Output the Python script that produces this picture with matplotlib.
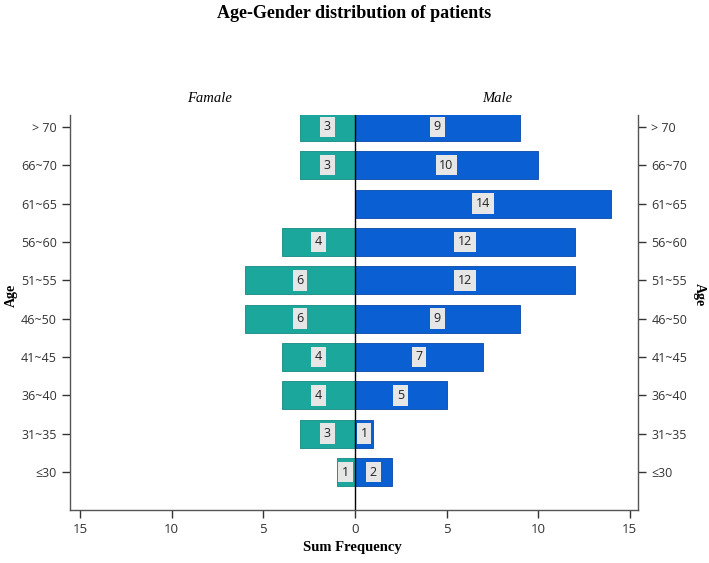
import matplotlib
matplotlib.use("Agg")
import matplotlib.pyplot as plt
import numpy as np

ages = ['≤30', '31~35', '36~40', '41~45', '46~50', '51~55', '56~60', '61~65', '66~70', '> 70']
female = [1, 3, 4, 4, 6, 6, 4, 0, 3, 3]
male = [2, 1, 5, 7, 9, 12, 12, 14, 10, 9]
xticks = [-15, -10, -5, 0, 5, 10, 15]
xticklabels = ['15', '10', '5', '0', '5', '10', '15']

teal = '#1ba79b'
blue = '#0a5fd2'
serif = ['Liberation Serif', 'DejaVu Serif']
sans = ['Open Sans', 'DejaVu Sans']

W, H = 709, 563
fig = plt.figure(figsize=(W / 100, H / 100), dpi=100)
ax = fig.add_axes([70 / W, (H - 510) / H, 568 / W, 395 / H])

y = np.arange(len(ages))
h = 0.73
box = dict(boxstyle='square,pad=0.3', facecolor='#e6e6e6', edgecolor='none')
for i, (f, m) in enumerate(zip(female, male)):
    if f > 0:
        ax.barh(i, -f, height=h, color=teal, edgecolor='#138a80', linewidth=0.6, zorder=2)
        ax.text(-f / 2, i, str(f), ha='center', va='center', fontsize=9, family=sans,
                color='#222222', zorder=4, bbox=box)
    if m > 0:
        ax.barh(i, m, height=h, color=blue, edgecolor='#0848a8', linewidth=0.6, zorder=2)
        ax.text(m / 2, i, str(m), ha='center', va='center', fontsize=9, family=sans,
                color='#222222', zorder=4, bbox=box)

ax.axvline(0, color='black', linewidth=1.0, zorder=3)
ax.set_xlim(-15.55, 15.45)
ax.set_ylim(-0.99, 9.31)

ax.set_yticks(y)
ax.set_yticklabels(ages, family=sans, fontsize=9, color='#333333')
ax.set_xticks(xticks)
ax.set_xticklabels(xticklabels, family=sans, fontsize=9.5, color='#333333')
ax.tick_params(axis='y', which='both', left=True, right=True, labelleft=True, labelright=True,
               direction='out', length=6, width=1, color='#333333')
ax.tick_params(axis='x', direction='out', length=6, width=1, color='#333333')

ax.spines['top'].set_visible(False)
for s in ['left', 'right', 'bottom']:
    ax.spines[s].set_color('#555555')
    ax.spines[s].set_linewidth(1.0)

fig.text(11 / W, (H - 295) / H, 'Age', rotation=90, ha='center', va='center',
         family=serif, fontweight='bold', fontsize=10)
fig.text(699 / W, (H - 295) / H, 'Age', rotation=-90, ha='center', va='center',
         family=serif, fontweight='bold', fontsize=10)
fig.text(352 / W, (H - 548) / H, 'Sum Frequency', ha='center', va='center',
         family=serif, fontweight='bold', fontsize=10.5)

fig.text(354 / W, (H - 13) / H, 'Age-Gender distribution of patients', ha='center', va='center',
         family=serif, fontweight='bold', fontsize=13)
fig.text(210 / W, (H - 99) / H, 'Famale', ha='center', va='center', family=serif, style='italic', fontsize=10.5)
fig.text(497 / W, (H - 99) / H, 'Male', ha='center', va='center', family=serif, style='italic', fontsize=10.5)

fig.savefig('out.png', dpi=100)
